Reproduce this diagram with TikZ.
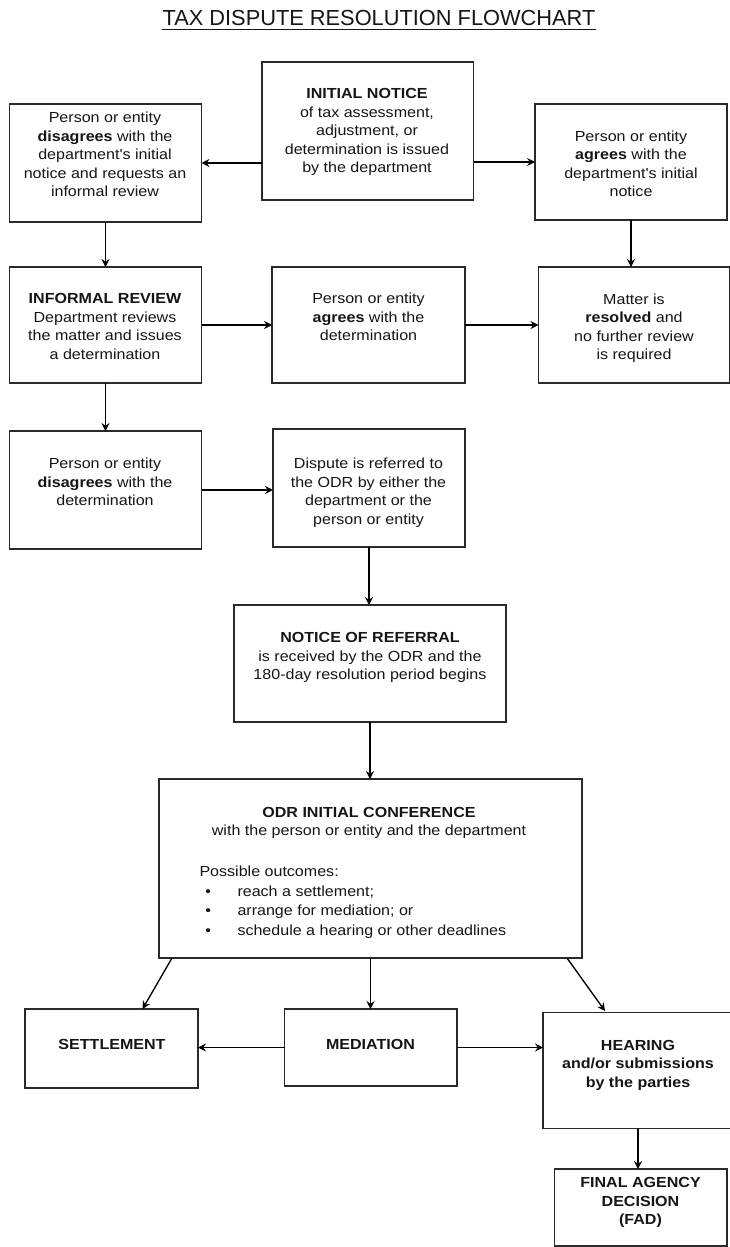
\documentclass[tikz,border=0pt]{standalone}
\usepackage{fontspec}
\setmainfont{Liberation Sans}
\newfontfamily\bodyfont[FakeStretch=1.1]{Liberation Sans}
\newfontfamily\titlefont{Liberation Sans}
\usetikzlibrary{arrows.meta,fit}
\definecolor{boxc}{HTML}{2A2A2A}
\definecolor{txtc}{HTML}{151515}
\begin{document}
\begin{tikzpicture}[x=1pt,y=-1pt,
  box/.style={draw=boxc, line width=1.6pt, inner sep=0pt, outer sep=0pt},
  arr/.style={draw=black, line width=1.35pt, -{Stealth[length=8pt,width=8pt,inset=2.8pt]}},
  txt/.style={anchor=north, yshift=12.95pt, inner sep=0pt, align=center, text=txtc,
    font={\bodyfont\fontsize{14.6}{18.5}\selectfont}, execute at begin node=\strut},
  ltxt/.style={anchor=base west, inner sep=0pt, text=txtc,
    font={\bodyfont\fontsize{14.6}{18.5}\selectfont}},
  btxt/.style={anchor=base, inner sep=0pt, text=txtc,
    font={\bodyfont\fontsize{14.6}{18.5}\selectfont}}
]
\useasboundingbox (0,0) rectangle (730,1247);

% title
\node[anchor=base, inner sep=0pt, text=txtc, font={\titlefont\fontsize{21.8}{26}\selectfont}] (title) at (379,26) {TAX DISPUTE RESOLUTION FLOWCHART};
\draw[line width=1.2pt, txtc] ([yshift=-3.5pt]title.base west) -- ([yshift=-3.5pt]title.base east);

% boxes
\node[box, fit={(262,62) (473.5,200)}] (notice) {};
\node[box, fit={(9.5,104) (201.5,222)}] (disag1) {};
\node[box, fit={(535,104) (727,220)}] (agree1) {};
\node[box, fit={(9.5,267) (201.5,383)}] (informal) {};
\node[box, fit={(272,267) (465,383)}] (agree2) {};
\node[box, fit={(538.5,267) (729.5,383)}] (resolved) {};
\node[box, fit={(9.5,431) (201.5,549)}] (disag2) {};
\node[box, fit={(273,429) (465,547)}] (referred) {};
\node[box, fit={(234,605) (506,722)}] (referral) {};
\node[box, fit={(159,779) (582,958)}] (odr) {};
\node[box, fit={(25,1009) (198,1088)}] (settle) {};
\node[box, fit={(284.5,1009) (457,1086)}] (mediation) {};
\node[box, fit={(543,1012.5) (733,1128.5)}] (hearing) {};
\node[box, fit={(554.5,1169) (727,1246)}] (fad) {};

% texts
\node[txt] (t-notice) at (367,101.5) {\textbf{INITIAL NOTICE}\\of tax assessment,\\adjustment, or\\determination is issued\\by the department};
\node[txt] (t-disag1) at (105,125) {Person or entity\\\textbf{disagrees} with the\\department's initial\\notice and requests an\\informal review};
\node[txt] (t-agree1) at (631,143.5) {Person or entity\\\textbf{agrees} with the\\department's initial\\notice};
\node[txt] (t-informal) at (105,306.5) {\textbf{INFORMAL REVIEW}\\Department reviews\\the matter and issues\\a determination};
\node[txt] (t-agree2) at (368.5,306) {Person or entity\\\textbf{agrees} with the\\determination};
\node[txt] (t-resolved) at (634,306.5) {Matter is\\\textbf{resolved} and\\no further review\\is required};
\node[txt] (t-disag2) at (105,471) {Person or entity\\\textbf{disagrees} with the\\determination};
\node[txt] (t-referred) at (368.5,471) {Dispute is referred to\\the ODR by either the\\department or the\\person or entity};
\node[txt] (t-referral) at (370,645.5) {\textbf{NOTICE OF REFERRAL}\\is received by the ODR and the\\180-day resolution period begins};
\node[txt] (t-odr) at (369,820) {\textbf{ODR INITIAL CONFERENCE}\\with the person or entity and the department};
\node[ltxt] (t-poss) at (199.3,876) {Possible outcomes:};
\node[btxt] (b1) at (208.3,896) {\textbullet};
\node[btxt] (b2) at (208.3,915.5) {\textbullet};
\node[btxt] (b3) at (208.3,935) {\textbullet};
\node[ltxt] (i1) at (237.3,896) {reach a settlement;};
\node[ltxt] (i2) at (237.3,915.5) {arrange for mediation; or};
\node[ltxt] (i3) at (237.3,935) {schedule a hearing or other deadlines};
\node[txt] (t-settle) at (112,1049.5) {\textbf{SETTLEMENT}};
\node[txt] (t-mediation) at (370.5,1049.5) {\textbf{MEDIATION}};
\node[txt] (t-hearing) at (638,1053) {\textbf{HEARING}\\\textbf{and/or submissions}\\\textbf{by the parties}};
\node[txt] (t-fad) at (640.5,1190.5) {\textbf{FINAL AGENCY}\\\textbf{DECISION}\\\textbf{(FAD)}};

% connectors
\draw[arr] (notice.west |- disag1.east) -- (disag1.east);
\draw[arr] (notice.east |- agree1.west) -- (agree1.west);
\draw[arr] (disag1.south) -- (informal.north);
\draw[arr] (agree1.south) -- (agree1.south |- resolved.north);
\draw[arr] (informal.east) -- (informal.east -| agree2.west);
\draw[arr] (agree2.east) -- (agree2.east -| resolved.west);
\draw[arr] (informal.south) -- (disag2.north);
\draw[arr] (disag2.east) -- (disag2.east -| referred.west);
\draw[arr] (referred.south) -- (referred.south |- referral.north);
\draw[arr] (referral.south) -- (referral.south |- odr.north);
\draw[arr] ([xshift=13pt]odr.south west) -- ([xshift=117.5pt]settle.north west);
\draw[arr] (odr.south) -- (odr.south |- mediation.north);
\draw[arr] ([xshift=-15pt]odr.south east) -- ([xshift=62pt,yshift=1.5pt]hearing.north west);
\draw[arr] (mediation.west) -- (mediation.west -| settle.east);
\draw[arr] (mediation.east) -- (mediation.east -| hearing.west);
\draw[arr] (hearing.south) -- (hearing.south |- fad.north);
\end{tikzpicture}
\end{document}
